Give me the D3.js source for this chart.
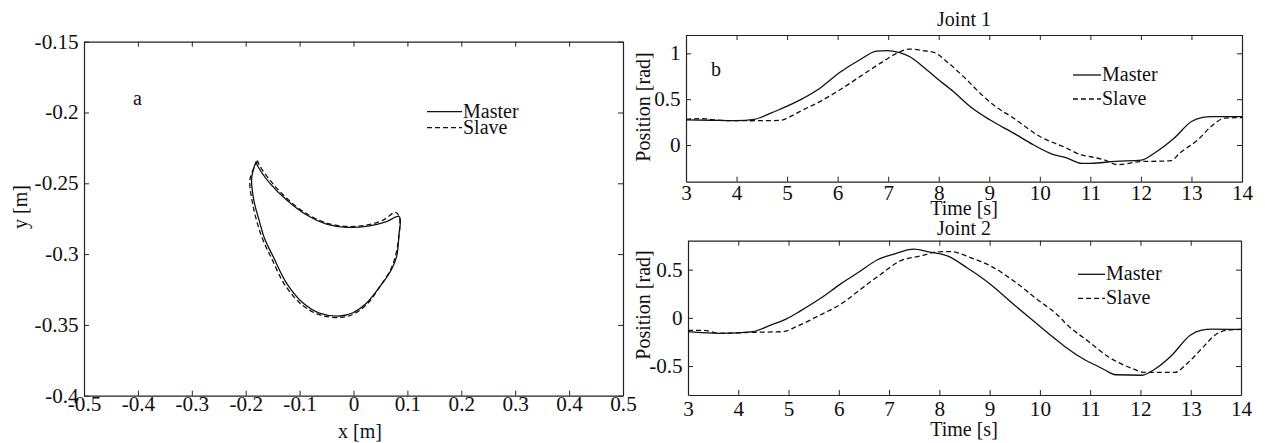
<!DOCTYPE html>
<html>
<head>
<meta charset="utf-8">
<script src="https://cdn.jsdelivr.net/npm/d3@7"></script>
<style>
  body { margin: 0; background: #fff; }
  svg text { font-family: "Liberation Serif", "Times New Roman", serif; fill: #111; }
</style>
</head>
<body>
<svg id="chart" width="1265" height="443"></svg>
<script>
// ---- panel a: end-effector path in the plane ----
const loopMasterX = [-0.181, -0.189, -0.185, -0.176, -0.165, -0.149, -0.124, -0.093, -0.062, -0.025, -0.001, 0.024, 0.049, 0.070, 0.080, 0.084, 0.085, 0.061, 0.030, -0.013, -0.050, -0.087, -0.124, -0.155, -0.177, -0.181];
const loopMasterY = [-0.2347, -0.2465, -0.2618, -0.2750, -0.2890, -0.3018, -0.3206, -0.3347, -0.3418, -0.3437, -0.3414, -0.3347, -0.3230, -0.3112, -0.3018, -0.2877, -0.2736, -0.2770, -0.2800, -0.2811, -0.2788, -0.2724, -0.2618, -0.2500, -0.2383, -0.2347];
const loopSlaveX = [-0.178, -0.192, -0.188, -0.180, -0.168, -0.152, -0.127, -0.095, -0.062, -0.022, 0.002, 0.026, 0.047, 0.066, 0.076, 0.084, 0.085, 0.078, 0.055, 0.024, -0.012, -0.050, -0.088, -0.124, -0.153, -0.175, -0.178];
const loopSlaveY = [-0.2340, -0.2470, -0.2625, -0.2760, -0.2900, -0.3030, -0.3220, -0.3360, -0.3430, -0.3447, -0.3420, -0.3350, -0.3240, -0.3130, -0.3040, -0.2880, -0.2740, -0.2705, -0.2760, -0.2795, -0.2805, -0.2780, -0.2712, -0.2605, -0.2487, -0.2370, -0.2340];
const xTicksA = [-0.5, -0.4, -0.3, -0.2, -0.1, 0, 0.1, 0.2, 0.3, 0.4, 0.5];
const yTicksA = [-0.4, -0.35, -0.3, -0.25, -0.2, -0.15];

// ---- panel b: joint positions over time ----
const j1MasterT = [3, 3.5, 4, 4.35, 4.68, 4.86, 5.25, 5.65, 6.04, 6.44, 6.77, 6.97, 7.23, 7.43, 7.69, 7.96, 8.29, 8.62, 9.01, 9.48, 9.87, 10.27, 10.53, 10.83, 11.0, 11.49, 12.01, 12.27, 12.66, 13.0, 13.2, 13.4, 14];
const j1MasterV = [0.275, 0.270, 0.266, 0.280, 0.348, 0.390, 0.490, 0.620, 0.790, 0.930, 1.025, 1.030, 1.007, 0.963, 0.855, 0.728, 0.583, 0.420, 0.275, 0.130, 0.003, -0.105, -0.140, -0.200, -0.200, -0.178, -0.165, -0.087, 0.076, 0.257, 0.300, 0.310, 0.310];
const j1SlaveT = [3, 3.3, 3.7, 4.3, 4.86, 5.06, 5.25, 5.65, 6.04, 6.44, 6.84, 7.17, 7.43, 7.69, 7.92, 8.16, 8.49, 8.82, 9.08, 9.48, 10.0, 10.53, 10.8, 10.93, 11.26, 11.55, 12.0, 12.45, 12.6, 12.77, 13.13, 13.39, 13.66, 14];
const j1SlaveV = [0.280, 0.288, 0.268, 0.265, 0.268, 0.310, 0.365, 0.474, 0.600, 0.746, 0.890, 1.000, 1.047, 1.030, 1.007, 0.909, 0.746, 0.565, 0.438, 0.293, 0.093, -0.033, -0.105, -0.120, -0.160, -0.214, -0.180, -0.175, -0.170, -0.087, 0.058, 0.203, 0.293, 0.300];

const j2MasterT = [3, 3.63, 4.0, 4.29, 4.63, 4.96, 5.23, 5.63, 6.03, 6.43, 6.76, 7.09, 7.49, 7.76, 8.16, 8.55, 9.02, 9.48, 9.88, 10.28, 10.5, 10.9, 11.17, 11.36, 11.5, 12.03, 12.29, 12.62, 12.99, 13.22, 13.42, 14];
const j2MasterV = [-0.143, -0.160, -0.155, -0.143, -0.078, -0.010, 0.070, 0.200, 0.350, 0.486, 0.600, 0.660, 0.712, 0.687, 0.642, 0.520, 0.347, 0.139, -0.035, -0.208, -0.299, -0.437, -0.507, -0.560, -0.590, -0.595, -0.530, -0.390, -0.180, -0.127, -0.117, -0.120];
const j2SlaveT = [3, 3.3, 3.63, 4.3, 4.89, 5.16, 5.63, 6.03, 6.43, 6.83, 7.22, 7.63, 7.96, 8.22, 8.62, 9.02, 9.48, 9.95, 10.41, 10.5, 10.97, 11.36, 11.83, 12.09, 12.68, 12.95, 13.28, 13.48, 13.74, 14];
const j2SlaveV = [-0.130, -0.130, -0.160, -0.150, -0.143, -0.090, 0.030, 0.139, 0.295, 0.450, 0.590, 0.642, 0.684, 0.687, 0.625, 0.538, 0.382, 0.190, 0.000, -0.050, -0.247, -0.403, -0.524, -0.566, -0.566, -0.462, -0.285, -0.180, -0.127, -0.120];
const timeTicks = [3, 4, 5, 6, 7, 8, 9, 10, 11, 12, 13, 14];
const j1Ticks = [0, 0.5, 1];
const j2Ticks = [-0.5, 0, 0.5];

const seriesNames = ["Master", "Slave"];

const svg = d3.select("#chart");
const zip = (a, b) => a.map((v, i) => [v, b[i]]);
const fmt = d => d === 0 ? "0" : String(d);

function panel(box, xDom, yDom, xTicks, yTicks, padX) {
    const x = d3.scaleLinear().domain(xDom).range([box.left, box.right]);
    const y = d3.scaleLinear().domain(yDom).range([box.bottom, box.top]);
    const g = svg.append("g");

    g.append("g").attr("transform", `translate(0,${box.bottom})`)
        .call(d3.axisBottom(x).tickValues(xTicks).tickSizeInner(-5).tickSizeOuter(0).tickPadding(padX).tickFormat(fmt));
    g.append("g").attr("transform", `translate(0,${box.top})`)
        .call(d3.axisTop(x).tickValues(xTicks).tickSizeInner(-5).tickSizeOuter(0).tickFormat(""));
    g.append("g").attr("transform", `translate(${box.left},0)`)
        .call(d3.axisLeft(y).tickValues(yTicks).tickSizeInner(-5).tickSizeOuter(0).tickPadding(5).tickFormat(fmt));
    g.append("g").attr("transform", `translate(${box.right},0)`)
        .call(d3.axisRight(y).tickValues(yTicks).tickSizeInner(-5).tickSizeOuter(0).tickFormat(""));

    g.selectAll(".domain").attr("stroke", "#222").attr("stroke-width", 1.2);
    g.selectAll(".tick line").attr("stroke", "#222");
    g.selectAll(".tick text").style("font-size", "20px")
        .style("font-family", "'Liberation Serif', serif").attr("fill", "#111")
        .attr("transform", "scale(1.06,1)");
    return { g, x, y };
}

function drawLine(p, xs, ys, dashed, curve) {
    const line = d3.line().x(d => p.x(d[0])).y(d => p.y(d[1])).curve(curve || d3.curveMonotoneX);
    p.g.append("path")
        .datum(zip(xs, ys))
        .attr("fill", "none")
        .attr("stroke", "#111")
        .attr("stroke-width", 1.3)
        .attr("stroke-dasharray", dashed ? "5,3" : null)
        .attr("d", line);
}

function legend(x0, x1, yMaster, ySlave) {
    [yMaster, ySlave].forEach((yy, i) => {
        svg.append("line").attr("x1", x0).attr("x2", x1).attr("y1", yy).attr("y2", yy)
            .attr("stroke", "#111").attr("stroke-width", 1.3)
            .attr("stroke-dasharray", i === 1 ? "5,3" : null);
        svg.append("text").attr("x", x1 + 1).attr("y", yy + 6)
            .style("font-size", "20px").text(seriesNames[i]);
    });
}

function label(x, y, txt, rotate) {
    svg.append("text")
        .attr("transform", `translate(${x},${y})` + (rotate ? " rotate(-90)" : ""))
        .attr("text-anchor", "middle")
        .style("font-size", "20px")
        .text(txt);
}

// panel a
const pa = panel({ left: 84, right: 623, top: 41.7, bottom: 395.7 }, [-0.5, 0.5], [-0.4, -0.15], xTicksA, yTicksA, 1);
drawLine(pa, loopMasterX, loopMasterY, false, d3.curveCatmullRom);
drawLine(pa, loopSlaveX, loopSlaveY, true, d3.curveCatmullRom);
legend(427, 462, 111.7, 127.7);
svg.append("text").attr("x", 133).attr("y", 105).style("font-size", "20px").text("a");
label(360, 438, "x [m]");
label(27, 207, "y [m]", true);

// panel b, joint 1
const p1 = panel({ left: 686, right: 1242, top: 35, bottom: 181.7 }, [3, 14], [-0.4, 1.2], timeTicks, j1Ticks, 4);
drawLine(p1, j1MasterT, j1MasterV, false);
drawLine(p1, j1SlaveT, j1SlaveV, true);
legend(1073, 1101, 75, 99);
svg.append("text").attr("x", 711).attr("y", 76).style("font-size", "20px").text("b");
label(964, 26, "Joint 1");
label(964, 215, "Time [s]");
label(650, 107, "Position [rad]", true);

// panel b, joint 2
const p2 = panel({ left: 688, right: 1241, top: 240.7, bottom: 395 }, [3, 14], [-0.8, 0.8], timeTicks, j2Ticks, 7);
drawLine(p2, j2MasterT, j2MasterV, false);
drawLine(p2, j2SlaveT, j2SlaveV, true);
legend(1078, 1105, 274.3, 298.3);
label(964, 235, "Joint 2");
label(964, 436, "Time [s]");
label(650, 305, "Position [rad]", true);
</script>
</body>
</html>
